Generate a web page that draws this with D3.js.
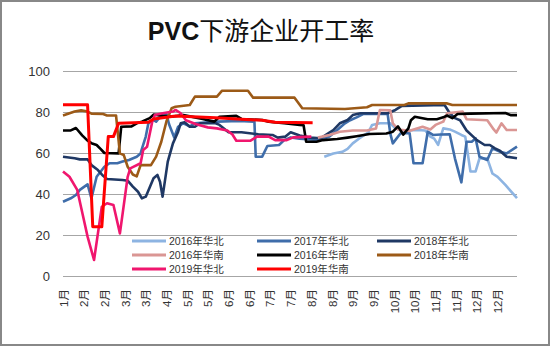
<!DOCTYPE html>
<html><head><meta charset="utf-8">
<script src="https://cdn.jsdelivr.net/npm/d3@7"></script>
<style>body{margin:0;background:#fff}svg{display:block}</style>
</head><body>
<svg id="c" width="550" height="346"></svg>
<script>
// ---- data: [day-of-year, operating rate %] ----
const tickLabels = ["1月","2月","2月","3月","3月","4月","5月","5月","6月","6月","7月","7月","8月","8月","9月","9月","10月","10月","11月","11月","12月","12月"];
const tickDays = [25,41,57,73,89,105,121,137,153,169,185,201,217,233,249,265,281,297,313,329,345,361];
const yTicks = [0,20,40,60,80,100];

const hb2016 = [[227,58.2],[234,59.8],[241,60.6],[245,62],[249,64.7],[254,67.1],[261,70],[264,73.7],[270,74.5],[278,74.5],[282,72],[288,70.5],[293,71],[299,71.2],[305,71],[309,68],[312,67],[315,64],[319,72],[324,71.5],[328,70.4],[333,68.8],[336,68],[340,51],[344,51],[347,57.4],[353,57.4],[357,50],[361,48.4],[367,44.4],[376,38]];
const hb2017 = [[25,36.2],[31,37.9],[35,39.5],[38,42],[44,44.7],[47,37.9],[51,48.4],[57,53.3],[61,55],[67,55],[71,55.8],[76,56.6],[82,58.2],[85,59.8],[86,62],[89,68],[91,74.5],[95,76],[97,75.3],[101,78.5],[105,79],[107,74],[111,67.6],[114,72.8],[118,74.5],[123,73],[127,74.5],[144,75.3],[161,75.6],[173,75.3],[174,58.2],[179,58.2],[183,63.4],[192,63.9],[196,66.3],[201,67.6],[208,67],[224,66.3],[231,68],[237,71.2],[243,74.5],[247,76],[252,77.4],[257,79],[276,79],[278,69.6],[280,64.7],[286,69.6],[293,69.6],[296,55],[303,55],[307,70.4],[311,68.8],[317,69],[324,69.1],[328,57.4],[333,45.7],[337,65.5],[341,65.5],[344,67.1],[347,58.2],[353,56.6],[357,62.3],[363,60.6],[368,59.8],[376,63.1]];
const hb2018 = [[25,58.2],[34,57.4],[38,56.9],[44,56.9],[47,54.1],[52,51.7],[56,48.9],[59,47.3],[71,46.8],[75,46.5],[79,43.6],[83,41.1],[86,37.9],[89,38.7],[95,47.7],[98,49.3],[100,46],[102,38.7],[106,55.8],[110,64.7],[114,70.4],[116,74.5],[119,75],[123,72.8],[127,72.8],[131,74.5],[143,74.5],[146,73.7],[153,70.1],[163,70.1],[176,69.1],[187,68.8],[191,67.5],[197,68],[201,70.1],[208,68.5],[216,67.5],[224,67.2],[234,71.2],[239,74.5],[245,76.1],[249,78.5],[255,79.4],[276,79.4],[282,81],[287,83],[320,83.4],[324,79.4],[328,77],[332,76],[337,71],[345,66.3],[351,63.9],[355,63.9],[359,62.3],[363,61],[368,58.2],[376,57.4]];
const hn2016 = [[222,67.5],[231,68.8],[239,70.4],[249,71],[260,71],[267,72],[270,81],[278,80.8],[280,74.5],[284,71.5],[293,70.8],[303,72.8],[309,71.5],[313,73.7],[319,75.3],[322,79.4],[334,80.2],[337,76.5],[353,76],[358,71.5],[360,70],[364,74.5],[368,71.2],[376,71.2]];
const hn2016b = [[25,71],[31,71],[35,72.2],[40,68.5],[44,66],[47,64.8],[51,63.9],[54,62],[57,60],[68,59.8],[70,72.8],[78,73],[82,74.5],[86,75.3],[92,77],[95,78.7],[102,78.2],[110,77.8],[118,78.5],[126,77.5],[133,76.6],[142,75.3],[146,77.7],[159,78.1],[163,76.6],[179,76.1],[184,75.3],[196,74.5],[208,73.7],[211,73.5],[213,65.5],[221,65.5],[226,66.3],[237,66.8],[245,67.5],[252,68.2],[262,69.3],[275,69.5],[280,70.4],[284,73],[288,69],[292,72],[294,76],[297,77.7],[307,76.5],[314,76.5],[319,77.4],[322,78.3],[326,77],[330,79],[340,79.2],[367,79.5],[371,78.5],[376,78.5]];
const hn2018 = [[25,78.3],[34,80.2],[39,80.8],[44,80.2],[47,79.2],[56,79],[59,78.3],[66,78.3],[69,59.8],[72,59],[75,53.3],[79,49.5],[82,48.6],[85,54.1],[93,54.1],[97,58.2],[101,65.5],[105,75.5],[109,81.8],[112,82.6],[123,83.4],[127,87.5],[144,87.5],[148,90.4],[168,90.4],[172,87],[204,87],[210,81.8],[243,81.5],[260,82.3],[264,83.4],[289,83.4],[292,84.2],[322,84.2],[326,83.4],[376,83.4]];
const hb2019 = [[25,51],[30,48.4],[36,42],[40,30.6],[44,19.2],[49,7.8],[55,33.8],[59,35.5],[64,34.6],[69,20.8],[75,48.4],[77,52.5],[85,55],[87,61.5],[90,63],[94,75.3],[96,78.5],[102,79.4],[110,80.2],[112,81],[116,79.4],[120,76],[128,74],[137,72.5],[144,72],[152,71],[156,69],[159,66],[170,66],[175,68],[184,68],[189,66.3],[198,66.3],[203,67.6],[217,68]];
const hn2019 = [[25,83.5],[44,83.5],[48,24],[55,24],[60,68],[64,68],[68,74.5],[91,75],[95,76.6],[112,78],[143,77.2],[163,76.5],[179,76],[189,75],[218,74.8]];

const seriesNames = ["2016年华北","2017年华北","2018年华北","2016年华南","2016年华南","2018年华南","2019年华北","2019年华南"];
const seriesData = [hb2016, hb2017, hb2018, hn2016, hn2016b, hn2018, hb2019, hn2019];
const seriesColors = ["#8DB4E2","#3F6DAA","#1F3864","#DA9694","#000000","#9C5A17","#F0166E","#FF0000"];

// ---- drawing ----
const svg = d3.select("#c");
const W = 550, H = 346;
const x = d3.scaleLinear().domain([25, 376]).range([63, 517]);
const y = d3.scaleLinear().domain([0, 100]).range([276, 71]);

svg.append("rect").attr("x",1).attr("y",1).attr("width",W-2).attr("height",H-2)
  .attr("fill","#fff").attr("stroke","#888").attr("stroke-width",2);

// title
const title = svg.append("text").attr("x",261).attr("y",40).attr("text-anchor","middle")
  .attr("font-size",25).attr("fill","#111");
title.append("tspan").attr("font-family","Liberation Sans, Arial, sans-serif").attr("font-weight","bold").text("PVC");
title.append("tspan").attr("font-family","Noto Sans CJK SC, sans-serif").attr("font-weight","normal").text("下游企业开工率");

// gridlines
svg.append("g").selectAll("line").data(yTicks).join("line")
  .attr("x1",x.range()[0]).attr("x2",x.range()[1])
  .attr("y1",d=>y(d)).attr("y2",d=>y(d))
  .attr("stroke","#A6A6A6").attr("stroke-width",1).attr("shape-rendering","crispEdges");

// y axis labels
const yAxis = d3.axisLeft(y).tickValues(yTicks).tickSize(0).tickPadding(13);
const yg = svg.append("g").attr("transform",`translate(${x.range()[0]},0)`).call(yAxis);
yg.select(".domain").remove();
yg.selectAll("text").attr("font-family","Liberation Sans, Arial, sans-serif").attr("font-size",13).attr("fill","#333");

// x axis labels (rotated)
const xAxis = d3.axisBottom(x).tickValues(tickDays).tickFormat((d,i)=>tickLabels[i]).tickSize(0);
const xg = svg.append("g").attr("transform",`translate(0,${y(0)})`).call(xAxis);
xg.select(".domain").remove();
xg.selectAll("text")
  .attr("font-family","Liberation Sans, Noto Sans CJK SC, sans-serif").attr("font-size",11.5).attr("fill","#333")
  .attr("text-anchor","end").attr("transform","translate(0,13) rotate(-90)")
  .attr("x",0).attr("y",0).attr("dy","0.35em");

// lines
const line = d3.line().x(d=>x(d[0])).y(d=>y(d[1]));
svg.append("g").selectAll("path").data(seriesData).join("path")
  .attr("d",line).attr("fill","none")
  .attr("stroke",(d,i)=>seriesColors[i])
  .attr("stroke-width",(d,i)=>i===7?3:2.6)
  .attr("stroke-linejoin","round").attr("stroke-linecap","butt");

// legend
const colX = [132, 257, 377], rowY = [241, 255, 269];
const lg = svg.append("g");
seriesNames.forEach((name,i)=>{
  const cx = colX[i%3], cy = rowY[Math.floor(i/3)];
  lg.append("line").attr("x1",cx).attr("x2",cx+34).attr("y1",cy).attr("y2",cy)
    .attr("stroke",seriesColors[i]).attr("stroke-width",3);
  lg.append("text").attr("x",cx+37).attr("y",cy).attr("dy","0.36em")
    .attr("font-family","Liberation Sans, Noto Sans CJK SC, sans-serif").attr("font-size",10.5)
    .attr("fill","#333").text(name);
});
</script>
</body></html>
